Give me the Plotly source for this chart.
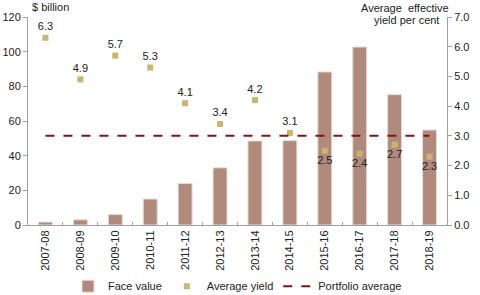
import plotly.graph_objects as go

years = ["2007-08", "2008-09", "2009-10", "2010-11", "2011-12", "2012-13",
         "2013-14", "2014-15", "2015-16", "2016-17", "2017-18", "2018-19"]
face_value = [1.7, 3.0, 6.0, 15.0, 24.0, 33.0, 48.5, 48.7, 88.3, 102.7, 75.2, 54.8]
avg_yield = [6.3, 4.9, 5.7, 5.3, 4.1, 3.4, 4.2, 3.1, 2.5, 2.4, 2.7, 2.3]
portfolio_avg = [3.0] * len(years)

label_pos = ["top center"] * 8 + ["bottom center"] * 4
font = "Liberation Sans, Arial, sans-serif"

fig = go.Figure()

fig.add_trace(go.Bar(
    x=years, y=face_value, name="Face value",
    marker=dict(color="#B08A7C", line=dict(color="#EBDCD6", width=1)),
))

fig.add_trace(go.Scatter(
    x=years, y=avg_yield, name="Average yield", yaxis="y2",
    mode="markers+text",
    marker=dict(symbol="square", color="#C9B66E", size=6),
    text=[f"{v:.1f}" for v in avg_yield],
    textposition=label_pos,
    textfont=dict(size=11, color="#222222", family=font),
))

fig.add_trace(go.Scatter(
    x=years, y=portfolio_avg, name="Portfolio average", yaxis="y2",
    mode="lines",
    line=dict(color="#7F1416", width=2, dash="dash"),
))

fig.update_layout(
    width=480, height=295,
    margin=dict(l=28, r=33, t=17, b=70, autoexpand=False),
    plot_bgcolor="white", paper_bgcolor="white",
    font=dict(family=font, size=11, color="#222222"),
    bargap=0.6,
    showlegend=True,
    legend=dict(orientation="h", x=0.5, xanchor="center",
                yref="container", y=0.03, yanchor="middle",
                font=dict(size=11), itemwidth=30, tracegroupgap=0),
    xaxis=dict(
        type="category", range=[-0.5, 11.5], tickangle=-90, showline=True,
        linecolor="#A0A0A0", ticks="inside", tickson="boundaries", ticklen=3,
        tickcolor="#A0A0A0", showgrid=False, tickfont=dict(size=11),
        automargin=False,
    ),
    yaxis=dict(
        range=[0, 120], dtick=20, showline=True, linecolor="#A0A0A0",
        ticks="outside", ticklen=4, tickcolor="#A0A0A0", showgrid=False,
        zeroline=False, tickfont=dict(size=11), automargin=False,
    ),
    yaxis2=dict(
        range=[0, 7], dtick=1, tickformat=".1f", overlaying="y", side="right",
        showline=True, linecolor="#A0A0A0", ticks="outside", ticklen=4,
        tickcolor="#A0A0A0", showgrid=False, zeroline=False,
        tickfont=dict(size=11), automargin=False,
    ),
    annotations=[
        dict(text="$ billion", xref="paper", yref="paper", x=0.0, y=1.0,
             xanchor="left", yanchor="bottom", showarrow=False, yshift=2,
             xshift=2, font=dict(size=11)),
        dict(text="Average  effective", xref="paper", x=0.899, yref="paper",
             y=1.0, xanchor="center", yanchor="middle", showarrow=False,
             yshift=9, font=dict(size=11)),
        dict(text="yield per cent", xref="paper", x=0.903, yref="paper",
             y=1.0, xanchor="center", yanchor="middle", showarrow=False,
             yshift=-3, font=dict(size=11)),
    ],
)

# drop the page's default body margin so the figure sits at the window corner
fig.write_html("out.html", config={"displayModeBar": False},
               post_script="document.body.style.margin='0';")
